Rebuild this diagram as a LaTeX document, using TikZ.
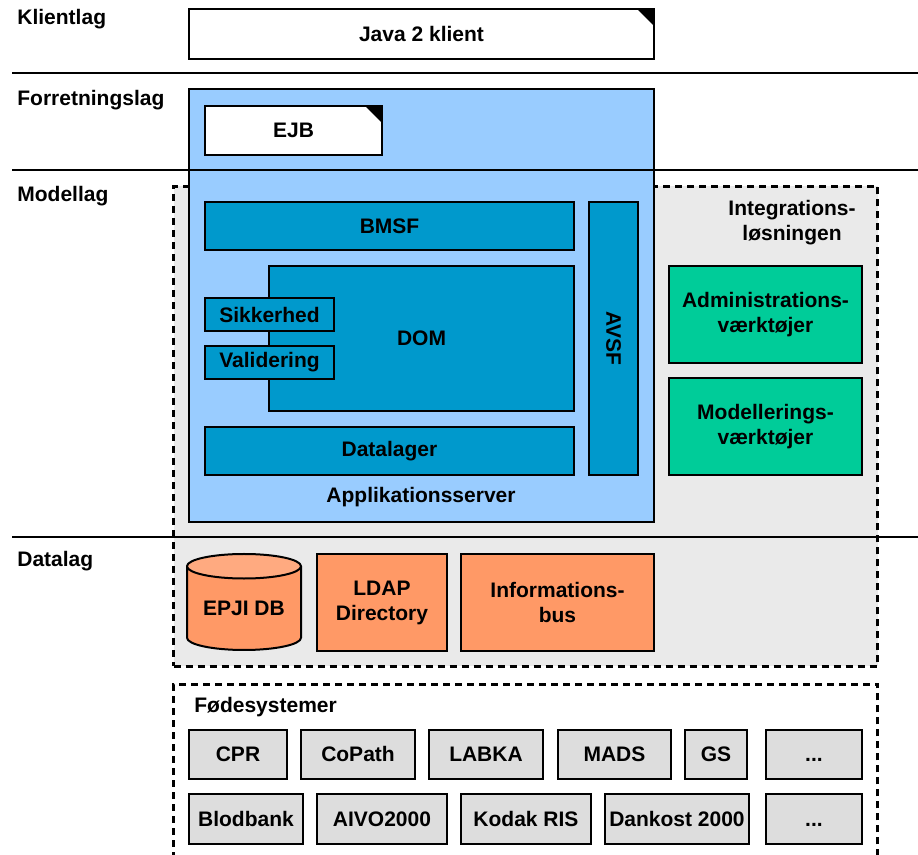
\documentclass[tikz,border=0pt]{standalone}
\usepackage{fontspec}
\setmainfont{Liberation Sans}
\usetikzlibrary{shapes.geometric}

\def\pxsize{0.5pt}
\def\moretxt{...}

\definecolor{serverblue}{HTML}{99CCFF}
\definecolor{compblue}{HTML}{0099CC}
\definecolor{toolgreen}{HTML}{00CC99}
\definecolor{dataorange}{HTML}{FF9966}
\definecolor{dbtop}{HTML}{FFAA80}
\definecolor{integgray}{HTML}{EAEAEA}
\definecolor{feedgray}{HTML}{DDDDDD}

\begin{document}
\begin{tikzpicture}[
    x=\pxsize, y=-\pxsize,
    font=\fontsize{10.5}{12.5}\selectfont\bfseries,
    box/.style={draw=black, line width=1pt, anchor=north west, inner sep=0pt, align=center},
    doc box/.style={box, fill=white, path picture={
        \fill[black] (path picture bounding box.north east) -- ++(-8.5pt,0pt) -- ++(8.5pt,-8.5pt) -- cycle;}},
    server/.style={box, fill=serverblue},
    comp/.style={box, fill=compblue},
    tool/.style={box, fill=toolgreen},
    store/.style={box, fill=dataorange},
    feeder/.style={box, fill=feedgray, text height=1.6ex, text depth=0.25ex},
    group/.style={draw=black, line width=1.5pt, dash pattern=on 3.5pt off 2.5pt,
        anchor=north west, inner sep=0pt},
    layer/.style={anchor=base west, inner sep=0pt},
    sep/.style={line width=1.2pt}
]
    \useasboundingbox (0,0) rectangle (918,855);

    % Draw the dashed groups
    \node[group, fill=integgray, minimum width=704*\pxsize, minimum height=480*\pxsize] (integ) at (172,185) {};
    \node[group, fill=white, minimum width=704*\pxsize, minimum height=200*\pxsize] (feed) at (172,683) {};
    \node[align=center] (integ-title) at (792,223) {Integrations-\\løsningen};
    \node[layer] (feed-title) at (194,713) {Fødesystemer};

    % Draw the client and the application server
    \node[doc box, minimum width=465*\pxsize, minimum height=50*\pxsize] (java) at (188,8) {Java 2 klient};
    \node[server, minimum width=465*\pxsize, minimum height=433*\pxsize] (app) at (188,88) {};
    \node (app-title) at (421,497) {Applikationsserver};
    \node[doc box, minimum width=177*\pxsize, minimum height=49*\pxsize] (ejb) at (204,105) {EJB};

    % Draw the components inside the server
    \node[comp, minimum width=369*\pxsize, minimum height=48*\pxsize] (bmsf) at (204,201) {BMSF};
    \node[comp, minimum width=305*\pxsize, minimum height=145*\pxsize] (dom) at (268,265) {DOM};
    \node[comp, minimum width=129*\pxsize, minimum height=33*\pxsize] (sikkerhed) at (204,297) {Sikkerhed};
    \node[comp, minimum width=129*\pxsize, minimum height=33*\pxsize] (validering) at (204,345) {Validering};
    \node[comp, minimum width=369*\pxsize, minimum height=48*\pxsize] (datalager) at (204,426) {Datalager};
    \node[comp, minimum width=49*\pxsize, minimum height=273*\pxsize] (avsf) at (588,201) {};
    \node[rotate=-90] (avsf-title) at (avsf.center) {AVSF};

    % Draw the tools
    \node[tool, minimum width=193*\pxsize, minimum height=97*\pxsize] (admin) at (668,265) {Administrations-\\værktøjer};
    \node[tool, minimum width=193*\pxsize, minimum height=97*\pxsize] (modeller) at (668,377) {Modellerings-\\værktøjer};

    % Draw the data layer
    \node[cylinder, shape border rotate=90, draw=black, line width=1pt, aspect=0.3,
        minimum width=114*\pxsize, minimum height=96*\pxsize, inner sep=0pt, anchor=shape center,
        cylinder uses custom fill, cylinder body fill=dataorange, cylinder end fill=dbtop] (epji) at (244,602) {EPJI DB};
    \node[store, minimum width=130*\pxsize, minimum height=97*\pxsize] (ldap) at (316,553) {LDAP\\Directory};
    \node[store, minimum width=193*\pxsize, minimum height=97*\pxsize] (infobus) at (460,553) {Informations-\\bus};

    % Draw the feeder systems
    \foreach \name/\x/\w/\txt in {cpr/188/98/CPR, copath/300/114/CoPath, labka/428/114/LABKA,
        mads/557/113/MADS, gs/684/62/GS, more1/765/96/\moretxt}
        \node[feeder, minimum width=\w*\pxsize, minimum height=49*\pxsize] (\name) at (\x,729) {\txt};
    \foreach \name/\x/\w/\txt in {blodbank/188/114/Blodbank, aivo/316/130/AIVO2000, kodak/460/130/Kodak RIS,
        dankost/604/144/Dankost 2000, more2/765/96/\moretxt}
        \node[feeder, minimum width=\w*\pxsize, minimum height=50*\pxsize] (\name) at (\x,793) {\txt};

    % Draw the layer separators and names
    \foreach \y in {73,170,537}
        \draw[sep] (12,\y) -- (918,\y);
    \foreach \name/\y in {Klientlag/25, Forretningslag/106, Modellag/202, Datalag/567}
        \node[layer] (lbl-\name) at (17,\y) {\name};
\end{tikzpicture}
\end{document}
